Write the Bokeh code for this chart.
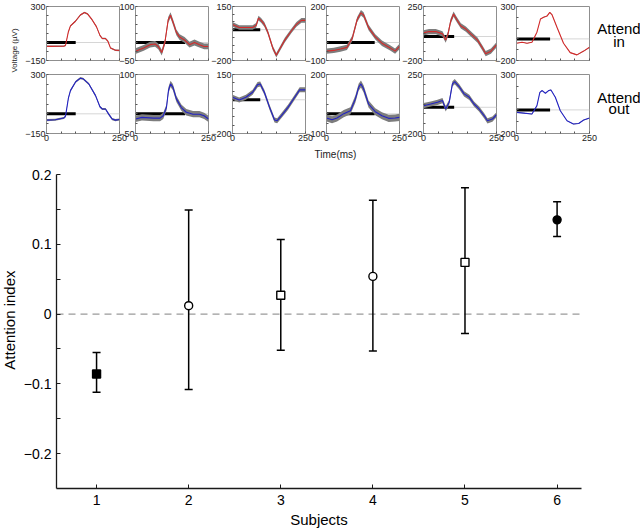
import math
from bokeh.plotting import figure
from bokeh.layouts import row, column
from bokeh.models import Range1d, FixedTicker, Span, Label, Whisker, TeeHead, ColumnDataSource
from bokeh.embed import file_html
from bokeh.resources import INLINE

# ---------------- data: ERP panels (time in ms, voltage in uV) ----------------
t_in_1 = [0, 20, 40, 60, 65, 75, 82, 99, 116, 130, 141, 156, 171, 183, 191, 202, 210, 219, 236, 250]
v_in_1 = [-32, -32, -31, -30, -25, 90, 138, 177, 229, 250, 237, 190, 132, 59, 33, 33, 12, -45, -64, -66]
t_out_1 = [0, 30, 59, 65, 75, 82, 100, 116, 125, 145, 168, 183, 191, 202, 213, 225, 236, 250]
v_out_1 = [-48, -45, -32, -20, 120, 177, 245, 272, 268, 228, 139, 54, 37, 37, -2, -40, -48, -43]

t_in_2 = [0, 28, 50, 67, 78, 90, 101, 112, 120, 129, 140, 151, 168, 185, 202, 219, 235, 250]
v_in_2 = [-24, -15, -6, -4, -11, -28, 2, 63, 76, 55, 28, 15, 7, -6, 0, -6, -11, -11]
t_out_2 = [0, 22, 62, 84, 95, 106, 113, 120, 128, 140, 157, 174, 197, 219, 235, 250]
v_out_2 = [-13, -9, -11, -11, -5, 16, 60, 76, 68, 38, 16, 4, -1, -1, -5, -13]

t_in_3 = [0, 23, 46, 69, 81, 89, 98, 109, 121, 138, 150, 161, 179, 202, 219, 236, 250]
v_in_3 = [34, 14, 14, 14, 28, 75, 60, 34, -17, -119, -166, -129, -68, -7, 34, 60, 60]
t_out_3 = [0, 23, 46, 69, 86, 95, 109, 127, 144, 153, 167, 190, 213, 230, 250]
v_out_3 = [15, -1, 15, 45, 90, 94, 45, -45, -120, -124, -95, -45, 15, 59, 59]

t_in_4 = [0, 25, 48, 70, 88, 105, 118, 127, 144, 167, 190, 218, 235, 250]
v_in_4 = [-48, -44, -36, -27, 22, 127, 165, 153, 83, 31, -4, -30, -48, -22]
t_out_4 = [0, 19, 36, 59, 82, 99, 110, 118, 127, 144, 167, 190, 213, 235, 250]
v_out_4 = [-21, -30, -21, 1, 16, 76, 135, 152, 127, 50, 11, -10, -23, -21, -18]

t_in_5 = [0, 19, 42, 65, 76, 84, 93, 103, 114, 128, 145, 162, 185, 202, 213, 231, 250]
v_in_5 = [30, 41, 41, 22, -30, 22, 127, 187, 140, 88, 62, 22, -30, -96, -143, -122, -69]
t_out_5 = [0, 25, 48, 65, 76, 88, 99, 107, 122, 139, 157, 173, 190, 208, 219, 236, 250]
v_out_5 = [12, 25, 38, 51, -13, 38, 178, 196, 158, 102, 76, 25, -13, -65, -103, -90, -57]

t_in_6 = [0, 19, 36, 53, 70, 82, 93, 105, 114, 122, 139, 161, 184, 207, 230, 250]
v_in_6 = [-40, -31, -40, -31, 62, 184, 201, 213, 245, 222, 105, -40, -127, -148, -113, -78]
t_out_6 = [0, 25, 53, 70, 80, 88, 99, 110, 118, 133, 150, 173, 195, 213, 230, 250]
v_out_6 = [-21, -27, -35, 36, 149, 164, 141, 164, 169, 107, -7, -92, -120, -115, -86, -69]

sem_in = [6, 8, 15, 15, 22, 3]
sem_out = [8, 8, 15, 18, 20, 3]

y_lo = [-150, -50, -200, -100, -200, -200]
y_hi = [300, 100, 150, 200, 250, 300]
y_step = [75, 25, 50, 50, 75, 100]
bar_start = [0, 0, 0, 0, 0, 0]
bar_end = [100, 170, 95, 165, 105, 115]
x_ticks_ms = [0, 50, 100, 150, 200, 250]

# ---------------- data: attention index ----------------
subjects = [1, 2, 3, 4, 5, 6]
attention_index = [-0.086, 0.012, 0.027, 0.054, 0.074, 0.135]
ci_low = [-0.112, -0.108, -0.052, -0.053, -0.028, 0.111]
ci_high = [-0.055, 0.149, 0.107, 0.163, 0.181, 0.161]
marker_shape = ["square", "circle", "square", "circle", "square", "circle"]
marker_fill = ["black", "white", "white", "white", "white", "black"]
y_major = [-0.2, -0.1, 0, 0.1, 0.2]
y_minor = [-0.15, -0.05, 0.05, 0.15]

T_IN = [t_in_1, t_in_2, t_in_3, t_in_4, t_in_5, t_in_6]
V_IN = [v_in_1, v_in_2, v_in_3, v_in_4, v_in_5, v_in_6]
T_OUT = [t_out_1, t_out_2, t_out_3, t_out_4, t_out_5, t_out_6]
V_OUT = [v_out_1, v_out_2, v_out_3, v_out_4, v_out_5, v_out_6]

FONT = "Liberation Sans"
GRAY = "#8f8f8f"
RED = "#d42b2b"
BLUE = "#2323c4"
BAND = "#7d7d7d"

FRAME_LEFT = [46, 135, 232, 326, 423, 516]
FW = 73
LB = [26, 30, 30, 30, 30, 30]
RB = 9
VOLT_W = 20


def style_small_axis(ax):
    ax.major_tick_in = 2
    ax.major_tick_out = 0
    ax.minor_tick_in = 2
    ax.minor_tick_out = 0
    ax.axis_line_color = GRAY
    ax.major_tick_line_color = "#555555"
    ax.minor_tick_line_color = "#555555"
    ax.major_label_standoff = 1
    ax.major_label_text_font = FONT
    ax.major_label_text_font_size = "9px"
    ax.major_label_text_color = "#222222"


def make_panel(i, r, t, v, s, color):
    lo, hi = y_lo[i], y_hi[i]
    if r == 0:
        top, fh, bot = 6, 54, 7
    else:
        top, fh, bot = 7, 59, 13
    p = figure(width=LB[i] + FW + RB, height=top + fh + bot, output_backend="svg",
               toolbar_location=None, x_range=Range1d(0, 250), y_range=Range1d(lo, hi),
               min_border_left=LB[i], min_border_right=RB, min_border_top=top,
               min_border_bottom=bot)
    p.border_fill_color = None
    p.background_fill_color = "white"
    p.outline_line_color = GRAY
    p.outline_line_width = 1
    p.grid.visible = False

    yt = list(range(lo, hi + 1, y_step[i]))
    ax = p.yaxis[0]
    ax.ticker = FixedTicker(ticks=[lo, hi], minor_ticks=[k for k in yt if k not in (lo, hi)])
    style_small_axis(ax)

    xa = p.xaxis[0]
    if r == 1:
        ends = [x_ticks_ms[0], x_ticks_ms[-1]]
        xa.ticker = FixedTicker(ticks=ends, minor_ticks=[k for k in x_ticks_ms if k not in ends])
    else:
        xa.ticker = FixedTicker(ticks=[], minor_ticks=x_ticks_ms)
    style_small_axis(xa)

    p.add_layout(Span(location=0, dimension="width", line_color="#d6d6d6",
                      line_width=1, level="underlay"))
    p.line([bar_start[i], bar_end[i]], [0, 0], line_color="black", line_width=3)
    p.varea(x=t, y1=[a - s for a in v], y2=[a + s for a in v], fill_color=BAND)
    p.line(t, v, line_color=color, line_width=1.1)

    prev_right = VOLT_W if i == 0 else FRAME_LEFT[i - 1] + FW + RB
    p.margin = (0, 0, 0, (FRAME_LEFT[i] - LB[i]) - prev_right)
    return p


row_in = [make_panel(i, 0, T_IN[i], V_IN[i], sem_in[i], RED) for i in range(6)]
row_out = [make_panel(i, 1, T_OUT[i], V_OUT[i], sem_out[i], BLUE) for i in range(6)]

TOP_H = 146
H_ROW1 = 67
PANELS_W = FRAME_LEFT[5] + FW + RB - VOLT_W


def text_strip(w, h):
    f = figure(width=w, height=h, output_backend="svg", toolbar_location=None,
               x_range=Range1d(0, w), y_range=Range1d(h, 0),
               x_axis_type=None, y_axis_type=None, min_border=0)
    f.outline_line_color = None
    f.grid.visible = False
    f.border_fill_color = None
    f.background_fill_color = None
    return f


# Voltage label strip
vf = text_strip(VOLT_W, TOP_H)
vf.add_layout(Label(x=13.5, y=50, text="Voltage (µV)", angle=math.pi / 2,
                    text_align="center", text_baseline="middle", text_font=FONT,
                    text_font_size="8px", text_color="#222222"))

# Attend labels strip
AF_W = 50
af = text_strip(AF_W, TOP_H)
for txt, yy in [("Attend", 27.5), ("in", 40.5), ("Attend", 96.5), ("out", 108)]:
    af.add_layout(Label(x=28.5, y=yy, text=txt, text_align="center", text_baseline="middle",
                        text_font=FONT, text_font_size="15px", text_color="black"))
af.margin = (0, 0, 0, 590 - (FRAME_LEFT[5] + FW + RB))

r1 = row(*row_in, sizing_mode="fixed", width=PANELS_W, height=H_ROW1)
r2 = row(*row_out, sizing_mode="fixed", width=PANELS_W, height=TOP_H - H_ROW1)
panels = column(r1, r2, sizing_mode="fixed", width=PANELS_W, height=TOP_H)
top = row(vf, panels, af, sizing_mode="fixed", width=640, height=TOP_H)

# "Time(ms)" caption strip
TS_H = 14
tf = text_strip(640, TS_H)
tf.add_layout(Label(x=335, y=8, text="Time(ms)", text_align="center", text_baseline="middle",
                    text_font=FONT, text_font_size="10px", text_color="#222222"))

# ---------------- bottom chart ----------------
BOT_H = 531 - TOP_H - TS_H
YL_W = 17  # strip holding the rotated y-axis title

ylab = text_strip(YL_W, BOT_H)
ylab.add_layout(Label(x=8.5, y=332 - TOP_H - TS_H, text="Attention index", angle=math.pi / 2,
                      text_align="center", text_baseline="middle", text_font=FONT,
                      text_font_size="15px", text_color="black"))

XL, XH = 0.565, 6.265
YL, YH = -0.25, 0.2
b = figure(width=640 - YL_W, height=BOT_H, output_backend="svg", toolbar_location=None,
           x_range=Range1d(XL, XH), y_range=Range1d(YL, YH),
           min_border_left=56 - YL_W, min_border_right=59, min_border_top=174 - TOP_H - TS_H,
           min_border_bottom=43)
b.outline_line_color = None
b.grid.visible = False
b.background_fill_color = "white"
b.border_fill_color = None

ya = b.yaxis[0]
ya.ticker = FixedTicker(ticks=y_major, minor_ticks=y_minor)
ya.major_label_overrides = {0: "0"}
ya.major_tick_in = 4
ya.major_tick_out = 0
ya.minor_tick_in = 4
ya.minor_tick_out = 0
ya.axis_line_color = "#1a1a1a"
ya.axis_line_width = 1.3
ya.major_tick_line_color = "#1a1a1a"
ya.minor_tick_line_color = "#1a1a1a"
ya.major_tick_line_width = 1.1
ya.minor_tick_line_width = 1.1
ya.major_label_text_font = FONT
ya.major_label_text_font_size = "14px"
ya.major_label_text_color = "black"
ya.major_label_standoff = 5

xb = b.xaxis[0]
xb.ticker = FixedTicker(ticks=subjects)
xb.major_tick_in = 4
xb.major_tick_out = 0
xb.minor_tick_line_color = None
xb.axis_line_color = "#1a1a1a"
xb.axis_line_width = 1.3
xb.major_tick_line_color = "#1a1a1a"
xb.major_label_text_font = FONT
xb.major_label_text_font_size = "14px"
xb.major_label_text_color = "black"
xb.major_label_standoff = 6
xb.axis_label = "Subjects"
xb.axis_label_text_font = FONT
xb.axis_label_text_font_size = "15px"
xb.axis_label_text_font_style = "normal"
xb.axis_label_text_color = "black"
xb.axis_label_standoff = 3

b.add_layout(Span(location=0, dimension="width", line_color="#9a9a9a",
                  line_dash="7 5", line_width=1.3, level="underlay"))

src = ColumnDataSource(dict(x=subjects, y=attention_index, lo=ci_low, hi=ci_high,
                            marker=marker_shape, fill=marker_fill))
b.add_layout(Whisker(source=src, base="x", upper="hi", lower="lo", level="underlay",
                     line_color="black", line_width=1.5,
                     upper_head=TeeHead(size=8, line_color="black", line_width=1.5),
                     lower_head=TeeHead(size=8, line_color="black", line_width=1.5)))
b.scatter(x="x", y="y", marker="marker", fill_color="fill", line_color="black",
          size=8, line_width=1.4, source=src)

bottom = row(ylab, b, sizing_mode="fixed", width=640, height=BOT_H)
root = column(top, tf, bottom, sizing_mode="fixed", width=640, height=531)

open("out.html", "w").write(file_html(root, INLINE))
